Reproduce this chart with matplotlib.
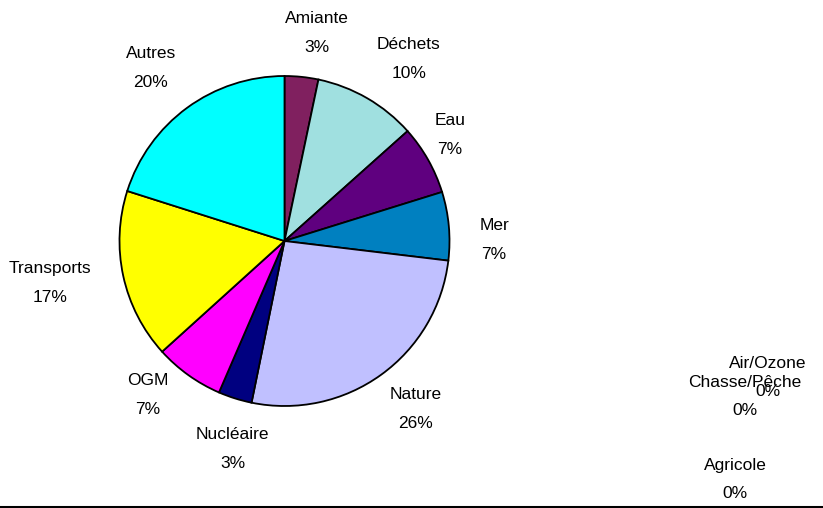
import matplotlib
matplotlib.use("Agg")
import matplotlib.pyplot as plt
import numpy as np

plt.rcParams['font.family'] = ['Liberation Sans', 'DejaVu Sans']

# Data
categories = ["Amiante", "Déchets", "Eau", "Mer", "Nature", "Nucléaire", "OGM", "Transports", "Autres"]
values = [3.3, 10.1, 6.8, 6.7, 26.3, 3.3, 6.8, 16.6, 20.1]
zero_categories = ["Air/Ozone", "Chasse/Pêche", "Agricole"]
zero_values = [0, 0, 0]

# Layout / style
colors = ["#80205F", "#A0E0E0", "#5F007F", "#0080C0", "#C0C0FF", "#000080", "#FF00FF", "#FFFF00", "#00FFFF"]
label_dist = [1.276, 1.336, 1.19, 1.27, 1.29, 1.297, 1.247, 1.442, 1.324]
label_ang_off = [-3.0, -4.3, 3.1, -4.9, 2.2, 3.5, -5.9, -2.0, 1.5]

W, H = 823, 508
fig = plt.figure(figsize=(W / 100, H / 100), dpi=100)
ax = fig.add_axes([0, 0, 1, 1])

cx, cy, R = 284.5, 267, 165
wedges, _ = ax.pie(values, colors=colors, startangle=90, counterclock=False,
                   center=(cx, cy), radius=R, normalize=True,
                   wedgeprops=dict(edgecolor='black', linewidth=1.3))
ax.set_xlim(0, W)
ax.set_ylim(0, H)
ax.set_aspect('equal')
ax.axis('off')

total = sum(values)
for w, name, v, d, off in zip(wedges, categories, values, label_dist, label_ang_off):
    ang = np.deg2rad((w.theta1 + w.theta2) / 2 + off)
    x = cx + d * R * np.cos(ang)
    y = cy + d * R * np.sin(ang)
    ax.text(x, y, f"{name}\n{round(v / total * 100):.0f}%", ha='center', va='center',
            fontsize=12.5, linespacing=2.15)

# zero-value labels (placed by the original renderer off to the side)
zero_pos = [(768, 130.5), (745, 111.5), (735, 28.5)]
for name, v, (x, y) in zip(zero_categories, zero_values, zero_pos):
    ax.text(x, y, f"{name}\n{v:.0f}%", ha='center', va='center', fontsize=12.5, linespacing=2.15)

# bottom border line
fig.add_artist(plt.Line2D([0, 1], [1.5 / H, 1.5 / H], color='black', linewidth=2.2, transform=fig.transFigure))

fig.savefig("out.png", dpi=100)
